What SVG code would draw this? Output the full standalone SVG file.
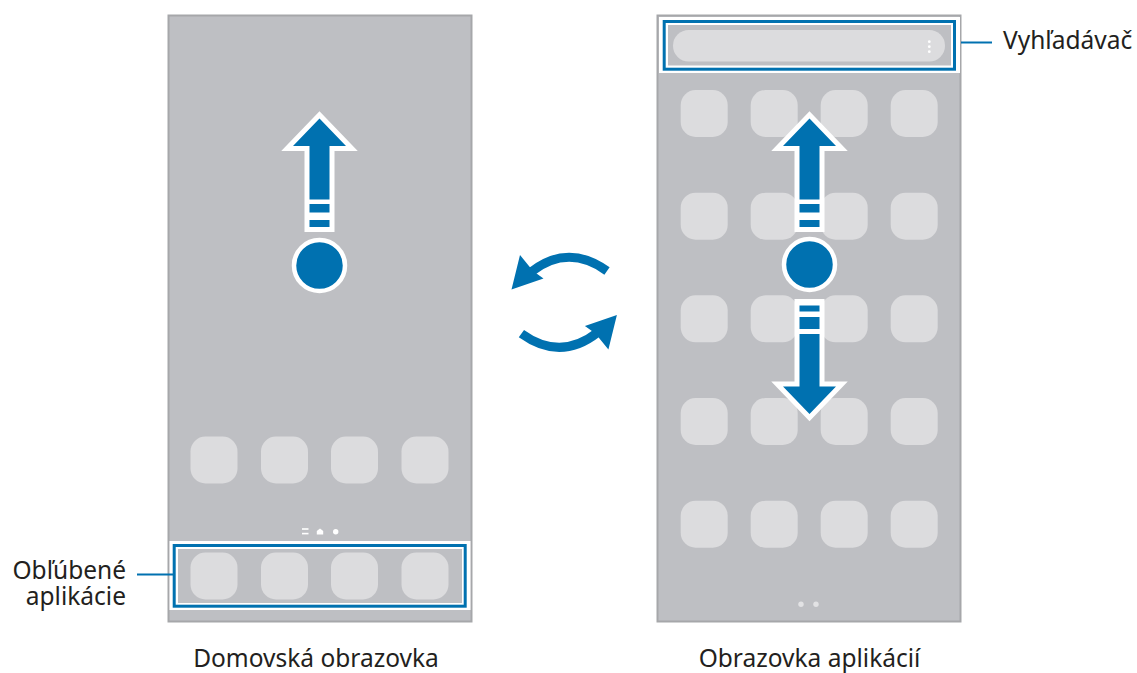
<svg xmlns="http://www.w3.org/2000/svg" xmlns:xlink="http://www.w3.org/1999/xlink" width="1137" height="673" viewBox="0 0 1137 673">
<style>
.phone{fill:#bebfc3;stroke:#a6a7aa;stroke-width:2}
.icon{fill:#dcdcde}
.blue{fill:#0071b0}
.wout{fill:#ffffff;stroke:#ffffff;stroke-width:10;stroke-linejoin:miter}
.lead{stroke:#0071b0;stroke-width:2;fill:none}
.lbl{font-family:"Noto Sans","Open Sans","Liberation Sans",sans-serif;font-size:24.5px;fill:#231f20}
.dot{fill:#ffffff}
</style>
<defs>
<rect id="ic" width="47" height="47" rx="15" class="icon"/>
<g id="rot">
<path d="M607,271 Q568,243 531,272" fill="none" stroke="#0071b0" stroke-width="9"/>
<polygon points="520,255 511.5,289.5 543.5,278.5 533,271" class="blue"/>
</g>
<g id="upArrow">
<path class="wout" d="M319.5,118.5 L346,146 L329.5,146 L329.5,227 L309.5,227 L309.5,146 L293,146 Z"/>
<path class="blue" d="M319.5,118.5 L346,146 L329.5,146 L329.5,199.5 L309.5,199.5 L309.5,146 L293,146 Z"/>
<rect class="blue" x="309.5" y="204" width="20" height="8.5"/>
<rect class="blue" x="309.5" y="220" width="20" height="7"/>
</g>
</defs>

<g id="home-screen">
<rect class="phone" x="168.5" y="15.5" width="303" height="606"/>
<use xlink:href="#ic" x="190.5" y="436.5"/>
<use xlink:href="#ic" x="261" y="436.5"/>
<use xlink:href="#ic" x="331" y="436.5"/>
<use xlink:href="#ic" x="401.5" y="436.5"/>
<g id="page-indicator">
<rect class="dot" x="302" y="528.2" width="6.5" height="1.6"/>
<rect class="dot" x="302" y="532.8" width="6.5" height="1.6"/>
<polygon class="dot" points="316.8,534.5 316.8,531 320,528.6 323.2,531 323.2,534.5"/>
<circle class="dot" cx="335.7" cy="531.7" r="2.7"/>
</g>
<g id="swipe-up">
<use xlink:href="#upArrow"/>
<circle cx="319.5" cy="265.5" r="25.5" fill="#0071b0" stroke="#ffffff" stroke-width="4.5"/>
</g>
</g>

<g id="favorites">
<rect x="169.5" y="541" width="301" height="69" fill="#ffffff"/>
<rect x="174.2" y="545.5" width="291" height="60.7" fill="none" stroke="#0071b0" stroke-width="3"/>
<rect x="178" y="549" width="284" height="54" fill="#bebfc3"/>
<use xlink:href="#ic" x="190.5" y="552.5"/>
<use xlink:href="#ic" x="261" y="552.5"/>
<use xlink:href="#ic" x="331" y="552.5"/>
<use xlink:href="#ic" x="401.5" y="552.5"/>
</g>

<g id="apps-screen">
<rect class="phone" x="657.5" y="15.5" width="303" height="606"/>
<g id="grid">
<use xlink:href="#ic" x="680.7" y="90"/><use xlink:href="#ic" x="750.7" y="90"/><use xlink:href="#ic" x="820.7" y="90"/><use xlink:href="#ic" x="890.7" y="90"/>
<use xlink:href="#ic" x="680.7" y="192.7"/><use xlink:href="#ic" x="750.7" y="192.7"/><use xlink:href="#ic" x="820.7" y="192.7"/><use xlink:href="#ic" x="890.7" y="192.7"/>
<use xlink:href="#ic" x="680.7" y="295.3"/><use xlink:href="#ic" x="750.7" y="295.3"/><use xlink:href="#ic" x="820.7" y="295.3"/><use xlink:href="#ic" x="890.7" y="295.3"/>
<use xlink:href="#ic" x="680.7" y="398"/><use xlink:href="#ic" x="750.7" y="398"/><use xlink:href="#ic" x="820.7" y="398"/><use xlink:href="#ic" x="890.7" y="398"/>
<use xlink:href="#ic" x="680.7" y="500.7"/><use xlink:href="#ic" x="750.7" y="500.7"/><use xlink:href="#ic" x="820.7" y="500.7"/><use xlink:href="#ic" x="890.7" y="500.7"/>
</g>
<circle cx="801" cy="604.3" r="2.7" fill="#e2e2e4"/>
<circle cx="816" cy="604.3" r="2.7" fill="#e2e2e4"/>
<g id="swipe-updown">
<use xlink:href="#upArrow" transform="translate(490,0)"/>
<path class="wout" d="M799.5,304 L819.5,304 L819.5,386.5 L836,386.5 L809.5,414 L783,386.5 L799.5,386.5 Z"/>
<rect class="blue" x="799.5" y="305.5" width="20" height="6"/>
<rect class="blue" x="799.5" y="317" width="20" height="12"/>
<path class="blue" d="M799.5,334 L819.5,334 L819.5,386.5 L836,386.5 L809.5,414 L783,386.5 L799.5,386.5 Z"/>
<circle cx="809.5" cy="264.5" r="25.5" fill="#0071b0" stroke="#ffffff" stroke-width="4.5"/>
</g>
</g>

<g id="finder">
<rect x="659" y="17" width="301" height="56" fill="#ffffff"/>
<rect x="664.2" y="21.5" width="290.3" height="47.7" fill="none" stroke="#0071b0" stroke-width="3"/>
<rect x="668" y="25" width="283" height="40.5" fill="#bebfc3"/>
<rect x="673" y="30" width="272" height="31.5" rx="15.75" fill="#dcdcde"/>
<circle class="dot" cx="929.3" cy="41.7" r="1.4"/>
<circle class="dot" cx="929.3" cy="46.7" r="1.4"/>
<circle class="dot" cx="929.3" cy="51.7" r="1.4"/>
</g>

<g id="switch">
<use xlink:href="#rot"/>
<use xlink:href="#rot" transform="rotate(180 564.2 302.3)"/>
</g>

<g id="connectors">
<line class="lead" x1="961" y1="42.5" x2="992" y2="42.5"/>
<line class="lead" x1="137" y1="574.5" x2="173" y2="574.5"/>
</g>

<g id="labels">
<text class="lbl" x="1003" y="49">Vyhľadávač</text>
<text class="lbl" text-anchor="end"><tspan x="126" y="579">Obľúbené</tspan><tspan x="126" y="605">aplikácie</tspan></text>
<text class="lbl" x="316" y="667" text-anchor="middle">Domovská obrazovka</text>
<text class="lbl" x="809.5" y="667" text-anchor="middle">Obrazovka aplikácií</text>
</g>
</svg>
